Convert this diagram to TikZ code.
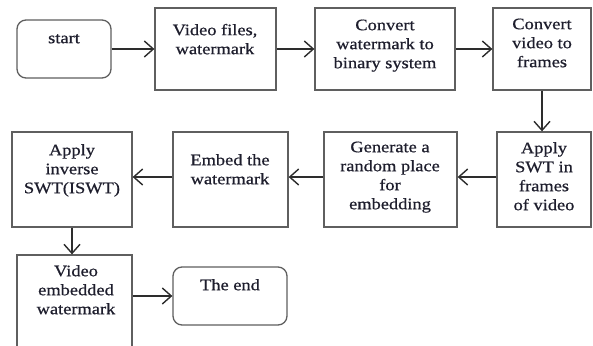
\documentclass[tikz,border=0pt]{standalone}
\usepackage{fontspec}
\setmainfont{Liberation Serif}[FakeStretch=1.15,FakeBold=0.6]
\usetikzlibrary{arrows.meta}
\definecolor{txt}{RGB}{30,30,45}
\definecolor{edgec}{RGB}{95,95,95}
\definecolor{arrc}{RGB}{45,45,45}
\newcommand\mystrut{\rule{0pt}{13pt}}
\begin{document}
\begin{tikzpicture}[x=1pt,y=-1pt,
  box/.style={draw=edgec, line width=1.3pt, fill=white, inner sep=0pt},
  rbox/.style={box, rounded corners=9pt},
  lbl/.style={anchor=north, align=center, inner sep=0pt, font=\fontsize{16}{19}\selectfont, text=txt},
  flow/.style={draw=arrc, line width=1.5pt, -{Straight Barb[length=9pt,width=16pt,line width=1.4pt]}}]
\useasboundingbox (0,0) rectangle (593,345);
\clip (0,0) rectangle (593,345);
\fill[white] (0,0) rectangle (593,345);
% boxes
\node[rbox, minimum width=94pt, minimum height=58pt] (start) at (64,49) {};
\node[box, minimum width=121pt, minimum height=82pt] (vid) at (215.5,49) {};
\node[box, minimum width=140pt, minimum height=82pt] (conv) at (385,49) {};
\node[box, minimum width=98pt, minimum height=82pt] (cvf) at (542,49) {};
\node[box, minimum width=94pt, minimum height=95pt] (swt) at (544,179.5) {};
\node[box, minimum width=133pt, minimum height=95pt] (gen) at (390.5,179.5) {};
\node[box, minimum width=115pt, minimum height=95pt] (emb) at (230.5,179.5) {};
\node[box, minimum width=120pt, minimum height=95pt] (isw) at (72,179.5) {};
\node[box, minimum width=115pt, minimum height=110pt] (ved) at (74.5,310) {};
\node[rbox, minimum width=114pt, minimum height=58pt] (end) at (230,296) {};
% texts
\node[lbl] (tstart) at (64,30) {\mystrut start};
\node[lbl] (tvid) at (215,22) {\mystrut Video files,\\watermark};
\node[lbl] (tconv) at (385,17) {\mystrut Convert\\watermark to\\binary system};
\node[lbl] (tcvf) at (542,16) {\mystrut Convert\\video to\\frames};
\node[lbl] (tswt) at (544,140) {\mystrut Apply\\SWT in\\frames\\of video};
\node[lbl] (tgen) at (390,139) {\mystrut Generate a\\random place\\for\\embedding};
\node[lbl] (temb) at (230,152) {\mystrut Embed the\\watermark};
\node[lbl] (tisw) at (72,142) {\mystrut Apply\\inverse\\SWT(ISWT)};
\node[lbl] (tved) at (76,263) {\mystrut Video\\embedded\\watermark};
\node[lbl] (tend) at (230,277) {\mystrut The end};
% connectors
\draw[flow] (start) -- (vid);
\draw[flow] (vid) -- (conv);
\draw[flow] (conv) -- (cvf);
\draw[flow] (cvf.south) -- (cvf.south |- swt.north);
\draw[flow] ([yshift=2.5pt]swt.west) -- ([yshift=2.5pt]swt.west -| gen.east);
\draw[flow] ([yshift=2.5pt]gen.west) -- ([yshift=2.5pt]gen.west -| emb.east);
\draw[flow] ([yshift=2.5pt]emb.west) -- ([yshift=2.5pt]emb.west -| isw.east);
\draw[flow] (isw.south) -- (isw.south |- ved.north);
\draw[flow] (ved.east |- end.west) -- (end.west);
\end{tikzpicture}
\end{document}
